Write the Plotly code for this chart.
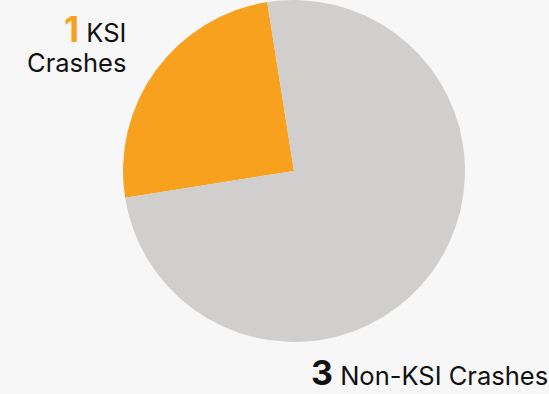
import plotly.graph_objects as go

categories = ["KSI Crashes", "Non-KSI Crashes"]
crash_counts = [1, 3]
slice_colors = ["#F7A11F", "#D0CFCD"]

BG = "#F7F7F7"
FONT = "Inter, Roboto, sans-serif"
W, H = 549, 394

fig = go.Figure(
    go.Pie(
        labels=categories,
        values=crash_counts,
        marker=dict(colors=slice_colors, line=dict(width=0)),
        sort=False,
        direction="counterclockwise",
        rotation=-99,
        textinfo="none",
        hoverinfo="label+value",
        showlegend=False,
        domain=dict(x=[0.2222, 0.8488], y=[0.132, 1.0]),
    )
)


def px(x, y):
    """Pixel position (from top-left) to paper coordinates."""
    return x / W, 1 - y / H


# Callout labels: count in bold, category name beside it
x, y = px(128, 52)
fig.add_annotation(
    x=x, y=y, xref="paper", yref="paper",
    text=f"<span style='font-size:35px;color:{slice_colors[0]}'><b>{crash_counts[0]}</b></span> KSI",
    showarrow=False, xanchor="right", yanchor="bottom",
)
x, y = px(128, 80)
fig.add_annotation(
    x=x, y=y, xref="paper", yref="paper",
    text=categories[0].split(" ")[1],
    showarrow=False, xanchor="right", yanchor="bottom",
)
x, y = px(550, 395)
fig.add_annotation(
    x=x, y=y, xref="paper", yref="paper",
    text=f"<span style='font-size:34px'><b>{crash_counts[1]}</b></span> {categories[1]}",
    showarrow=False, xanchor="right", yanchor="bottom",
)

fig.update_layout(
    width=W, height=H,
    margin=dict(l=0, r=0, t=0, b=0),
    paper_bgcolor=BG, plot_bgcolor=BG,
    font=dict(family=FONT, size=25.5, color="#111111"),
)

fig.write_html("out.html")
